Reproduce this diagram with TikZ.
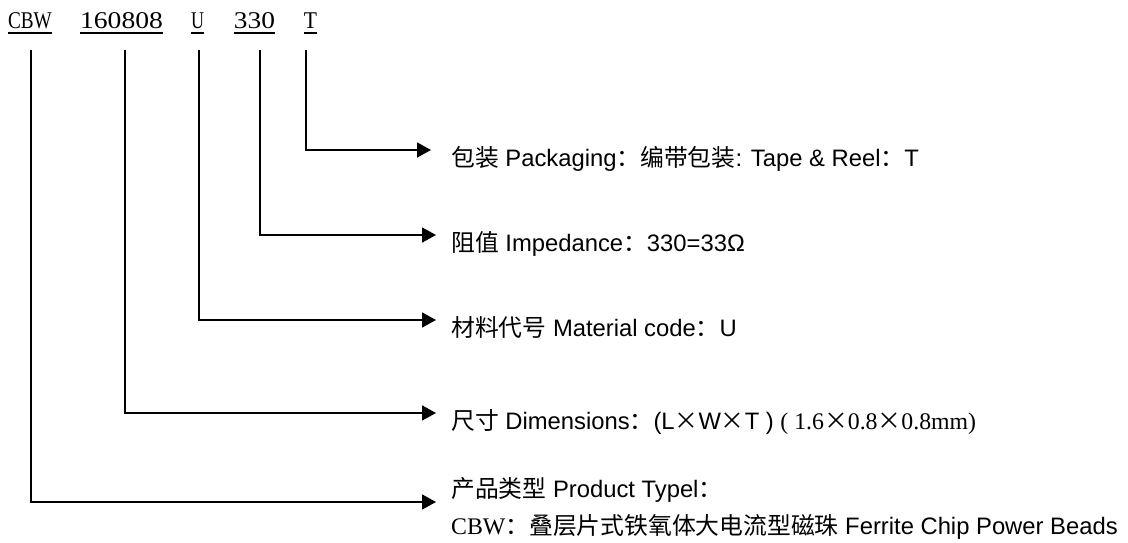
\documentclass[tikz,border=0pt]{standalone}
\usepackage{fontspec}
\setmainfont{Liberation Sans}
\newfontfamily\cjk{Noto Sans CJK SC}
\newfontfamily\hdr{Liberation Serif}
\newfontfamily\tms{Liberation Serif}
\newcommand\zh[1]{{\cjk #1}}
\usetikzlibrary{arrows.meta}
\begin{document}
\begin{tikzpicture}[x=1pt,y=-1pt,
  hdrtok/.style={inner sep=0pt,anchor=base,font=\hdr\fontsize{24}{28}\selectfont},
  uline/.style={line width=1.6pt},
  conn/.style={line width=1.7pt,-{Triangle[length=14pt,width=15pt]}},
  lab/.style={inner sep=0pt,anchor=base west,font=\fontsize{23.8}{36.5}\selectfont}]
\useasboundingbox (0,0) rectangle (1128,543);
% header tokens
\node[hdrtok] (hC) at (30,29) {\scalebox{0.8}[1]{CBW}};
\node[hdrtok] (hS) at (121.5,29) {\scalebox{1.15}[1]{160808}};
\node[hdrtok] (hU) at (197.5,29) {\scalebox{0.75}[1]{U}};
\node[hdrtok] (hI) at (254.5,29) {\scalebox{1.14}[1]{330}};
\node[hdrtok] (hT) at (310.5,29) {\scalebox{0.9}[1]{T}};
\foreach \n in {hC,hS,hU,hI,hT}{
  \draw[uline] ([yshift=-4pt]\n.base west) -- ([yshift=-4pt]\n.base east);
}
% start points
\coordinate (sC) at (31,50);
\coordinate (sS) at (125,50);
\coordinate (sU) at (199,50);
\coordinate (sI) at (260,50);
\coordinate (sT) at (306,50);
% arrow ends
\coordinate (eT) at (431,150);
\coordinate (eI) at (436,235);
\coordinate (eU) at (436,320);
\coordinate (eS) at (436,413);
\coordinate (eC) at (436,502);
% labels
\node[lab] (lT) at (451,166) {\zh{包装} Packaging\zh{：编带包装}: Tape \& Reel\zh{：}T};
\node[lab] (lI) at (451,251) {\zh{阻值} Impedance\zh{：}330=33Ω};
\node[lab] (lU) at (451,336) {\zh{材料代号} Material code\zh{：}U};
\node[lab] (lS) at (451,429) {\zh{尺寸} Dimensions\zh{：}(L\zh{×}W\zh{×}T ) {\tms ( 1.6\zh{×}0.8\zh{×}0.8mm)}};
\node[lab,align=left] (lC) at (451,534)
  {\zh{产品类型} Product Typel\zh{：}\\{\tms CBW}\zh{：叠层片式铁氧体大电流型磁珠} Ferrite Chip Power Beads};
% connectors
\draw[conn] (sT) |- (eT);
\draw[conn] (sI) |- (eI);
\draw[conn] (sU) |- (eU);
\draw[conn] (sS) |- (eS);
\draw[conn] (sC) |- (eC);
\end{tikzpicture}
\end{document}
